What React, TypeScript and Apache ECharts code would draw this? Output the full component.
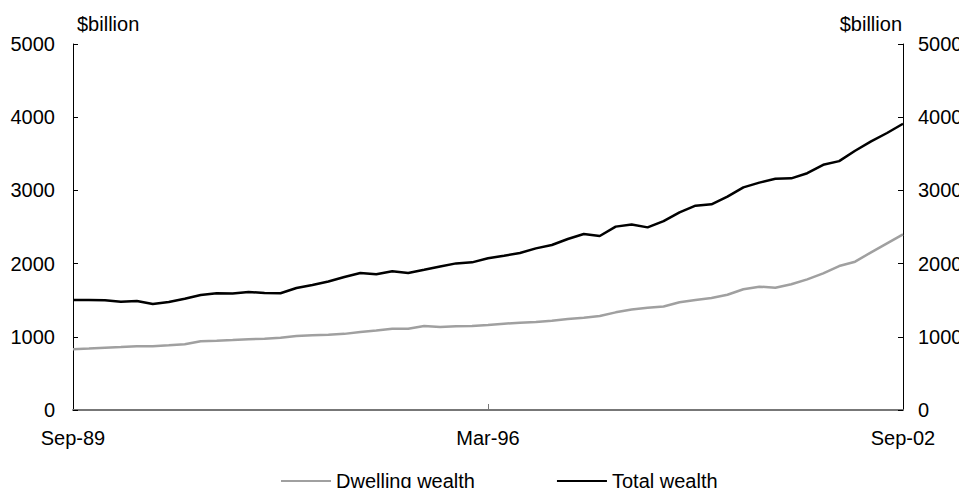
import React, { useEffect, useRef } from "react";
import * as echarts from "echarts";

const quarters: string[] = [
  "Sep-89", "Dec-89",
  "Mar-90", "Jun-90", "Sep-90", "Dec-90",
  "Mar-91", "Jun-91", "Sep-91", "Dec-91",
  "Mar-92", "Jun-92", "Sep-92", "Dec-92",
  "Mar-93", "Jun-93", "Sep-93", "Dec-93",
  "Mar-94", "Jun-94", "Sep-94", "Dec-94",
  "Mar-95", "Jun-95", "Sep-95", "Dec-95",
  "Mar-96", "Jun-96", "Sep-96", "Dec-96",
  "Mar-97", "Jun-97", "Sep-97", "Dec-97",
  "Mar-98", "Jun-98", "Sep-98", "Dec-98",
  "Mar-99", "Jun-99", "Sep-99", "Dec-99",
  "Mar-00", "Jun-00", "Sep-00", "Dec-00",
  "Mar-01", "Jun-01", "Sep-01", "Dec-01",
  "Mar-02", "Jun-02", "Sep-02",
];

const shownLabels: string[] = ["Sep-89", "Mar-96", "Sep-02"];

const dwellingWealth: number[] = [
  829, 840, 852, 861, 872, 872, 883, 897, 940, 945,
  955, 966, 975, 988, 1011, 1020, 1028, 1040, 1065, 1085,
  1111, 1111, 1148, 1134, 1143, 1148, 1161, 1179, 1193, 1202,
  1220, 1243, 1261, 1284, 1334, 1372, 1398, 1415, 1471, 1503,
  1530, 1575, 1649, 1685, 1671, 1717, 1785, 1867, 1967, 2026,
  2154, 2277, 2400,
];

const totalWealth: number[] = [
  1503, 1503, 1500, 1478, 1490, 1448, 1475, 1520, 1571, 1595,
  1590, 1612, 1598, 1595, 1667, 1708, 1755, 1817, 1871, 1855,
  1895, 1871, 1915, 1960, 2003, 2017, 2072, 2108, 2145, 2208,
  2254, 2336, 2404, 2377, 2505, 2535, 2495, 2580, 2700, 2791,
  2810, 2914, 3042, 3106, 3160, 3165, 3235, 3350, 3400, 3542,
  3670, 3784, 3910,
];

const yTicks: number[] = [0, 1000, 2000, 3000, 4000, 5000];

const FONT = "'Liberation Sans', Arial, sans-serif";

export default function App() {
  const ref = useRef<HTMLDivElement>(null);

  useEffect(() => {
    if (!ref.current) return;
    const chart = echarts.init(ref.current, undefined, { renderer: "svg" });
    const yMin = yTicks[0];
    const yMax = yTicks[yTicks.length - 1];
    const yInterval = yTicks[1] - yTicks[0];
    const yAxisBase = (pos: "left" | "right") => ({
      type: "value" as const,
      position: pos,
      min: yMin,
      max: yMax,
      interval: yInterval,
      name: "$billion",
      nameLocation: "end" as const,
      nameGap: 10,
      nameTextStyle: {
        color: "#000",
        fontSize: 20,
        fontFamily: FONT,
        align: pos === "left" ? "left" : "right",
        padding: pos === "left" ? [0, 0, 0, 4] : [0, 1, 0, 0],
      },
      axisLine: { show: true, lineStyle: { color: "#000", width: 1 } },
      axisTick: { show: true, inside: true, length: 5, lineStyle: { color: "#000" } },
      axisLabel: {
        color: "#000",
        fontSize: 20,
        fontFamily: FONT,
        margin: pos === "left" ? 18 : 15,
        formatter: (v: number) => String(v),
      },
      splitLine: { show: false },
    });

    chart.setOption({
      animation: false,
      backgroundColor: "#fff",
      grid: { left: 73, right: 64, top: 44, bottom: 86, containLabel: false },
      legend: {
        bottom: 0,
        left: 276,
        itemWidth: 50,
        itemHeight: 10,
        itemGap: 82,
        icon: "path://M0,4 L48,4 L48,6 L0,6 Z",
        textStyle: { color: "#000", fontSize: 20, fontFamily: FONT },
        data: [
          { name: "Dwelling wealth", itemStyle: { color: "#a0a0a0" } },
          { name: "Total wealth", itemStyle: { color: "#000" } },
        ],
      },
      xAxis: {
        type: "category",
        data: quarters,
        boundaryGap: false,
        axisLine: { show: true, lineStyle: { color: "#777", width: 2 } },
        axisTick: {
          show: true,
          inside: true,
          length: 6,
          interval: (i: number, v: string) => shownLabels.includes(v) && i !== 0 && i !== quarters.length - 1,
          lineStyle: { color: "#777", width: 1 },
        },
        axisLabel: {
          color: "#000",
          fontSize: 20,
          fontFamily: FONT,
          margin: 18,
          interval: (_i: number, v: string) => shownLabels.includes(v),
        },
        splitLine: { show: false },
      },
      yAxis: [yAxisBase("left"), yAxisBase("right")],
      series: [
        {
          name: "Dwelling wealth",
          type: "line",
          data: dwellingWealth,
          showSymbol: false,
          symbol: "none",
          lineStyle: { color: "#a0a0a0", width: 2.5 },
          itemStyle: { color: "#a0a0a0" },
          z: 2,
        },
        {
          name: "Total wealth",
          type: "line",
          data: totalWealth,
          showSymbol: false,
          symbol: "none",
          lineStyle: { color: "#000", width: 2.5 },
          itemStyle: { color: "#000" },
          z: 3,
        },
      ],
    });
    return () => chart.dispose();
  }, []);

  return <div ref={ref} style={{ width: 967, height: 496, margin: -8 }} />;
}
